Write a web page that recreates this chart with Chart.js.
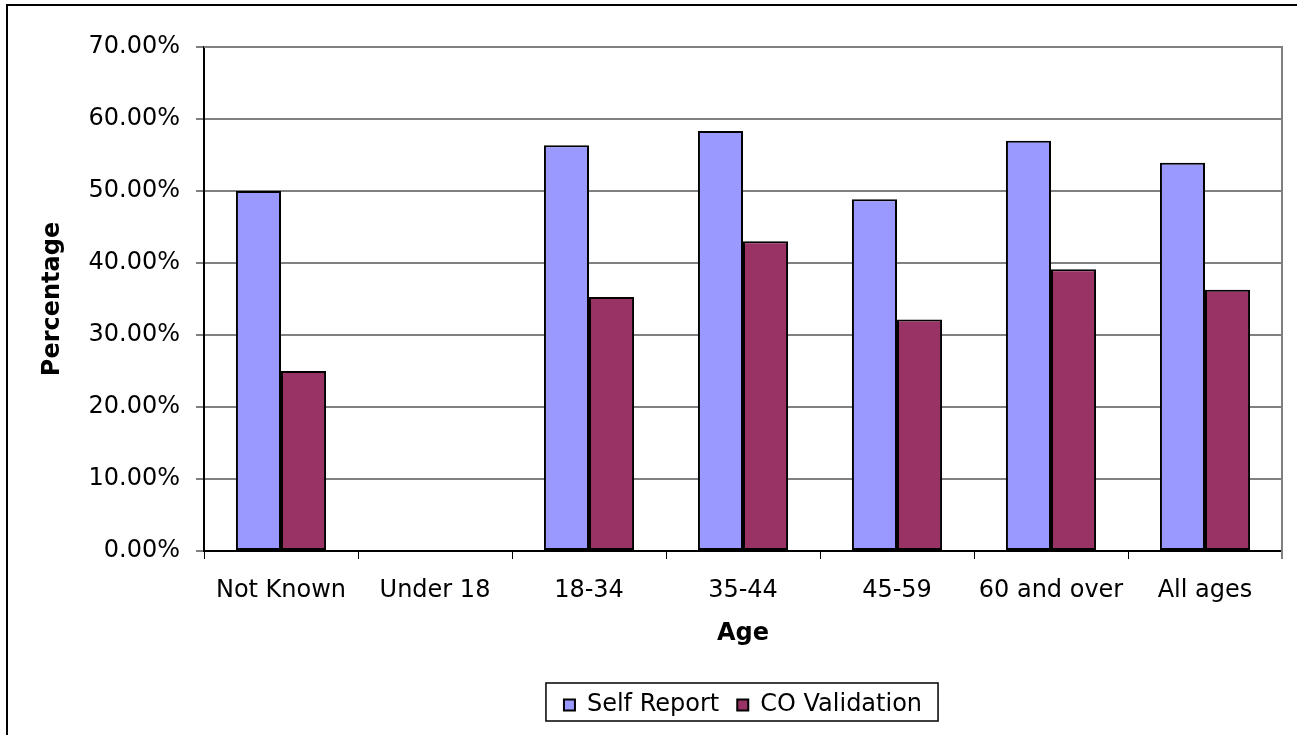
<!DOCTYPE html>
<html>
<head>
<meta charset="utf-8">
<title>Age chart</title>
<script src="https://cdn.jsdelivr.net/npm/chart.js@4"></script>
<style>
  html, body { margin: 0; padding: 0; background: #fff; }
  #wrap { width: 1297px; height: 735px; position: relative; }
</style>
</head>
<body>
<div id="wrap"><canvas id="chart"></canvas></div>
<script>
"use strict";

// values (percent)
var ageGroups = ["Not Known", "Under 18", "18-34", "35-44", "45-59", "60 and over", "All ages"];
var selfReport = [50.0, 0, 56.37, 58.33, 48.86, 56.98, 53.92];
var coValidation = [25.0, 0, 35.29, 43.02, 32.16, 39.12, 36.29];

var FONT = "'DejaVu Sans', sans-serif";

// white page, the cut frame (top + left) and the plot-area outline
var framePlugin = {
  id: "frame",
  afterLayout: function (chart) {
    // centre the legend under the plot area, not the whole canvas
    var lg = chart.legend;
    if (!lg) return;
    lg.left = chart.chartArea.left;
    lg.right = chart.chartArea.right;
    lg.width = lg.right - lg.left;
  },
  beforeDraw: function (chart) {
    var ctx = chart.ctx;
    ctx.save();
    ctx.fillStyle = "#fff";
    ctx.fillRect(0, 0, chart.width, chart.height);
    ctx.strokeStyle = "#000";
    ctx.lineWidth = 2;
    ctx.beginPath();
    ctx.moveTo(7, chart.height);
    ctx.lineTo(7, 5);
    ctx.lineTo(chart.width, 5);
    ctx.stroke();
    ctx.restore();
  },
  beforeDatasetsDraw: function (chart) {
    var a = chart.chartArea;
    var ctx = chart.ctx;
    ctx.save();
    ctx.strokeStyle = "#808080";
    ctx.lineWidth = 2;
    ctx.beginPath();
    ctx.moveTo(a.left, a.top);
    ctx.lineTo(a.right, a.top);
    ctx.lineTo(a.right, a.bottom + 8);
    ctx.stroke();
    ctx.restore();
  },
  afterDraw: function (chart) {
    // box around the legend, like the original
    var boxes = chart.legend && chart.legend.legendHitBoxes;
    if (!boxes || !boxes.length) return;
    var l = Infinity, t = Infinity, r = -Infinity, b = -Infinity;
    boxes.forEach(function (h) {
      l = Math.min(l, h.left);
      t = Math.min(t, h.top);
      r = Math.max(r, h.left + h.width);
      b = Math.max(b, h.top + h.height);
    });
    var ctx = chart.ctx;
    ctx.save();
    ctx.strokeStyle = "#000";
    ctx.lineWidth = 1.5;
    ctx.strokeRect(l - 18, t - 10, r - l + 34, b - t + 14);
    ctx.restore();
  },
};

var ctx = document.getElementById("chart").getContext("2d");

new Chart(ctx, {
  type: "bar",
  data: {
    labels: ageGroups,
    datasets: [
      {
        label: "Self Report",
        data: selfReport,
        backgroundColor: "#9999FF",
        borderColor: "#000",
        borderWidth: 2,
        borderSkipped: false,
      },
      {
        label: "CO Validation",
        data: coValidation,
        backgroundColor: "#993366",
        borderColor: "#000",
        borderWidth: 2,
        borderSkipped: false,
      },
    ],
  },
  options: {
    responsive: true,
    maintainAspectRatio: false,
    animation: false,
    devicePixelRatio: 1,
    layout: { padding: { left: 30, right: 15, top: 47, bottom: 8 } },
    datasets: { bar: { barPercentage: 1.0, categoryPercentage: 0.585 } },
    plugins: {
      tooltip: { enabled: false },
      legend: {
        position: "bottom",
        labels: {
          color: "#000",
          font: { family: FONT, size: 24 },
          boxWidth: 11,
          boxHeight: 11,
          padding: 18,
        },
      },
    },
    scales: {
      x: {
        offset: true,
        grid: {
          offset: true,
          drawOnChartArea: false,
          drawTicks: true,
          tickLength: 8,
          color: "#000",
        },
        border: { color: "#000", width: 2 },
        ticks: { color: "#000", font: { family: FONT, size: 24 }, padding: 17, maxRotation: 0 },
        title: {
          display: true,
          text: "Age",
          color: "#000",
          font: { family: FONT, size: 24, weight: "bold" },
          padding: { top: 4, bottom: 27 },
        },
        afterFit: function (scale) {
          scale.height = 124;
        },
      },
      y: {
        min: 0,
        max: 70,
        ticks: {
          stepSize: 10,
          color: "#000",
          font: { family: FONT, size: 24 },
          padding: 16,
          callback: function (v) {
            return v.toFixed(2) + "%";
          },
        },
        grid: { color: "#808080", lineWidth: 2, tickLength: 8, tickColor: "#000", tickWidth: 1 },
        border: { color: "#000", width: 2 },
        title: {
          display: true,
          text: "Percentage",
          color: "#000",
          font: { family: FONT, size: 24, weight: "bold" },
          padding: { top: 8, bottom: 4 },
        },
        afterFit: function (scale) {
          scale.width = 174;
        },
      },
    },
  },
  plugins: [framePlugin],
});
</script>
</body>
</html>
